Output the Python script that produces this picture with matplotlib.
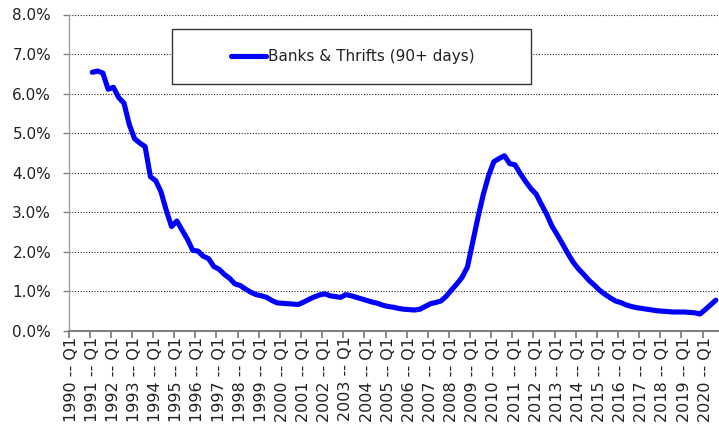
import matplotlib
matplotlib.use("Agg")
import matplotlib.pyplot as plt
import matplotlib.patches as mpatches
from matplotlib.ticker import FixedLocator, NullFormatter, FuncFormatter
import numpy as np

# ---- data ----
years = list(range(1990, 2021))
quarters = [f"{y} -- Q{q}" for y in years for q in range(1, 5)]
series_name = "Banks & Thrifts (90+ days)"
# values (%) from 1991 Q1 to 2020 Q3 ; 1990 has no data
values_1991_on = [
    6.54, 6.57, 6.52, 6.11, 6.16, 5.90, 5.76, 5.22, 4.86, 4.75, 4.66, 3.90,
    3.80, 3.52, 3.05, 2.64, 2.78, 2.55, 2.32, 2.04, 2.02, 1.89, 1.83, 1.63,
    1.56, 1.43, 1.33, 1.19, 1.15, 1.06, 0.98, 0.92, 0.89, 0.85, 0.77, 0.71,
    0.70, 0.69, 0.68, 0.67, 0.73, 0.80, 0.86, 0.91, 0.94, 0.89, 0.87, 0.85,
    0.92, 0.89, 0.85, 0.81, 0.77, 0.73, 0.70, 0.65, 0.62, 0.60, 0.57, 0.55,
    0.54, 0.53, 0.55, 0.62, 0.69, 0.72, 0.76, 0.88, 1.04, 1.19, 1.36, 1.62,
    2.25, 2.88, 3.45, 3.93, 4.28, 4.36, 4.43, 4.23, 4.20, 3.98, 3.78, 3.60,
    3.46, 3.20, 2.95, 2.65, 2.43, 2.20, 1.96, 1.74, 1.57, 1.43, 1.28, 1.16,
    1.03, 0.93, 0.84, 0.76, 0.72, 0.66, 0.62, 0.59, 0.57, 0.55, 0.53, 0.51,
    0.50, 0.49, 0.48, 0.48, 0.48, 0.47, 0.46, 0.43, 0.54, 0.66, 0.78,
]
y_ticks = [0, 1, 2, 3, 4, 5, 6, 7, 8]

n_missing = 4
vals = [np.nan] * n_missing + values_1991_on
x = np.arange(len(vals))

# ---- figure ----
W, H = 719, 433
fig = plt.figure(figsize=(W / 100, H / 100), dpi=100)
left_px, right_px, top_px, bot_px = 68.5, 719, 14.5, 331
ax = fig.add_axes([left_px / W, 1 - bot_px / H,
                   (right_px - left_px) / W, (bot_px - top_px) / H])

txt_color = "#222222"
fs = 11

ax.plot(x, vals, color="#0000ff", lw=3.7, solid_joinstyle="round",
        solid_capstyle="round", label=series_name, zorder=3)

ax.set_ylim(0, 8)
ax.set_xlim(-0.5, (right_px - 69) / 5.28 - 0.5)

ax.yaxis.set_major_locator(FixedLocator(y_ticks))
ax.yaxis.set_major_formatter(FuncFormatter(lambda v, p: f"{v:.1f}%"))
ax.grid(axis="y", color="#222222", linestyle=(0, (1, 1.5)), lw=0.8, zorder=0)

# tick marks on category boundaries, labels on category centers
label_pos = list(range(0, len(quarters), 4))
ax.xaxis.set_major_locator(FixedLocator([p - 0.5 for p in label_pos]))
ax.xaxis.set_major_formatter(NullFormatter())
ax.xaxis.set_minor_locator(FixedLocator(label_pos))
ax.set_xticklabels([quarters[p] for p in label_pos], minor=True,
                   rotation=90, fontsize=11.5, color=txt_color)
ax.tick_params(axis="x", which="major", length=5, width=1.3, color="#808080")
ax.tick_params(axis="x", which="minor", length=0, pad=4)
ax.tick_params(axis="y", length=4, width=1, color="#808080", pad=8.5,
               labelsize=fs, labelcolor=txt_color)

for s in ["top", "right"]:
    ax.spines[s].set_visible(False)
ax.spines["left"].set_color("#a0a0a0")
ax.spines["left"].set_linewidth(1.0)
ax.spines["bottom"].set_color("#808080")
ax.spines["bottom"].set_linewidth(1.5)

# legend box
bx0, bx1, by0, by1 = 171.5, 530.7, 29.3, 84.3
rect = mpatches.Rectangle((bx0 / W, 1 - by1 / H), (bx1 - bx0) / W, (by1 - by0) / H,
                          transform=fig.transFigure, facecolor="white",
                          edgecolor="#333333", lw=1.0, zorder=4)
ax.add_patch(rect)
leg = ax.legend(loc="center", bbox_to_anchor=(353 / W, 1 - 57 / H),
                bbox_transform=fig.transFigure, frameon=False, fontsize=fs,
                handlelength=2.25, handletextpad=0.15, borderpad=0)
leg.set_zorder(5)
for t in leg.get_texts():
    t.set_color(txt_color)

fig.savefig("out.png", dpi=100)
